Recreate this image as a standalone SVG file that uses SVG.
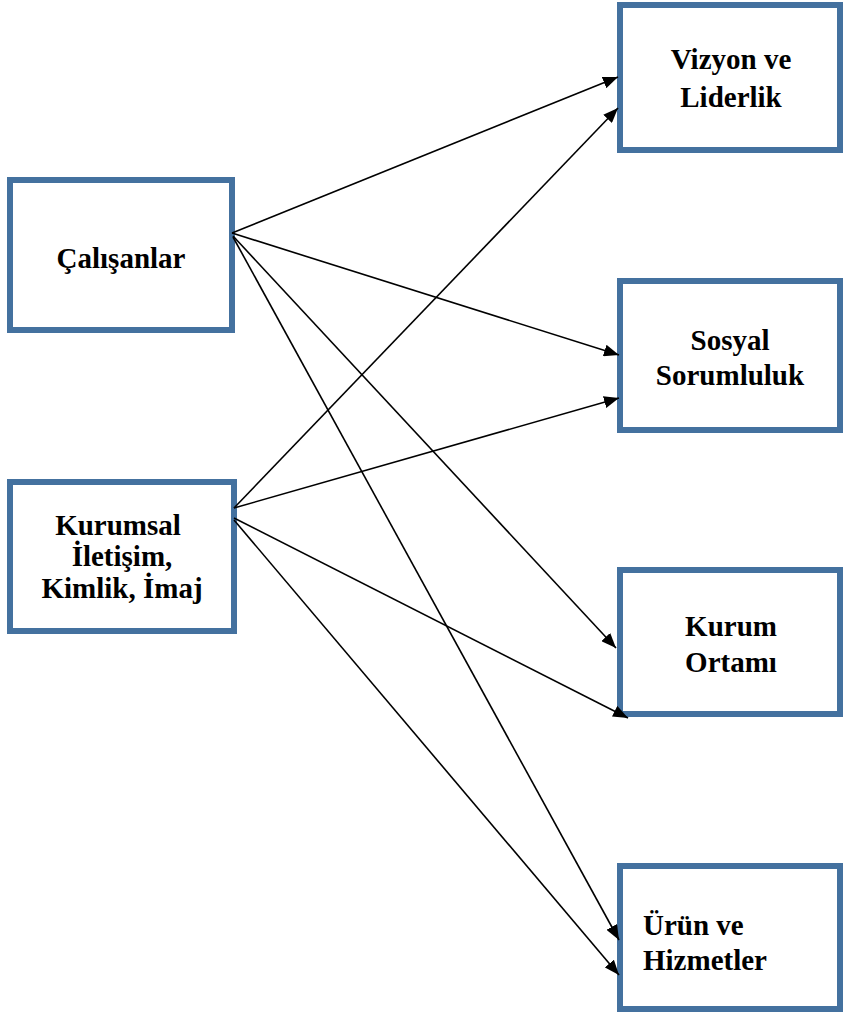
<svg xmlns="http://www.w3.org/2000/svg" width="847" height="1019" viewBox="0 0 847 1019">
<style>
.box{fill:#fff;stroke:#44719f;stroke-width:6}
.t{font-family:"Liberation Serif","Times New Roman",serif;font-weight:bold;font-size:29px;fill:#000}
.c{text-anchor:middle}
.ln{stroke:#000;stroke-width:1.6;fill:none;marker-end:url(#ah)}
</style>
<defs>
<marker id="ah" markerUnits="userSpaceOnUse" markerWidth="16" markerHeight="12" refX="15" refY="6" orient="auto">
<path d="M0,0 L15,6 L0,12 z" fill="#000"/>
</marker>
</defs>
<rect width="847" height="1019" fill="#fff"/>
<g id="n-calisanlar"><rect class="box" x="10" y="180" width="222" height="150"/>
<text class="t c" x="121" y="268">Çalışanlar</text></g>
<g id="n-kurumsal"><rect class="box" x="10" y="482" width="224" height="149"/>
<text class="t c" x="118" y="535">Kurumsal</text>
<text class="t c" x="122" y="566">İletişim,</text>
<text class="t c" x="122" y="598">Kimlik, İmaj</text></g>
<g id="n-vizyon"><rect class="box" x="620" y="5" width="220" height="145"/>
<text class="t c" x="731" y="69">Vizyon ve</text>
<text class="t c" x="731" y="107">Liderlik</text></g>
<g id="n-sosyal"><rect class="box" x="620" y="281" width="220" height="149"/>
<text class="t c" x="730" y="350">Sosyal</text>
<text class="t c" x="730" y="385">Sorumluluk</text></g>
<g id="n-ortam"><rect class="box" x="620" y="570" width="220" height="144"/>
<text class="t c" x="731" y="636">Kurum</text>
<text class="t c" x="731" y="672">Ortamı</text></g>
<g id="n-urun"><rect class="box" x="620" y="866" width="220" height="143"/>
<text class="t" x="643" y="935">Ürün ve</text>
<text class="t" x="643" y="970">Hizmetler</text></g>
<g id="connectors">
<line class="ln" x1="232" y1="233" x2="618" y2="77"/>
<line class="ln" x1="232" y1="233" x2="619" y2="355"/>
<line class="ln" x1="233" y1="236" x2="616" y2="648"/>
<line class="ln" x1="233" y1="237" x2="619" y2="940"/>
<line class="ln" x1="234" y1="508" x2="618" y2="108"/>
<line class="ln" x1="234" y1="508" x2="619" y2="398"/>
<line class="ln" x1="234" y1="518" x2="628" y2="718"/>
<line class="ln" x1="234" y1="520" x2="619" y2="975"/>
</g>
</svg>
